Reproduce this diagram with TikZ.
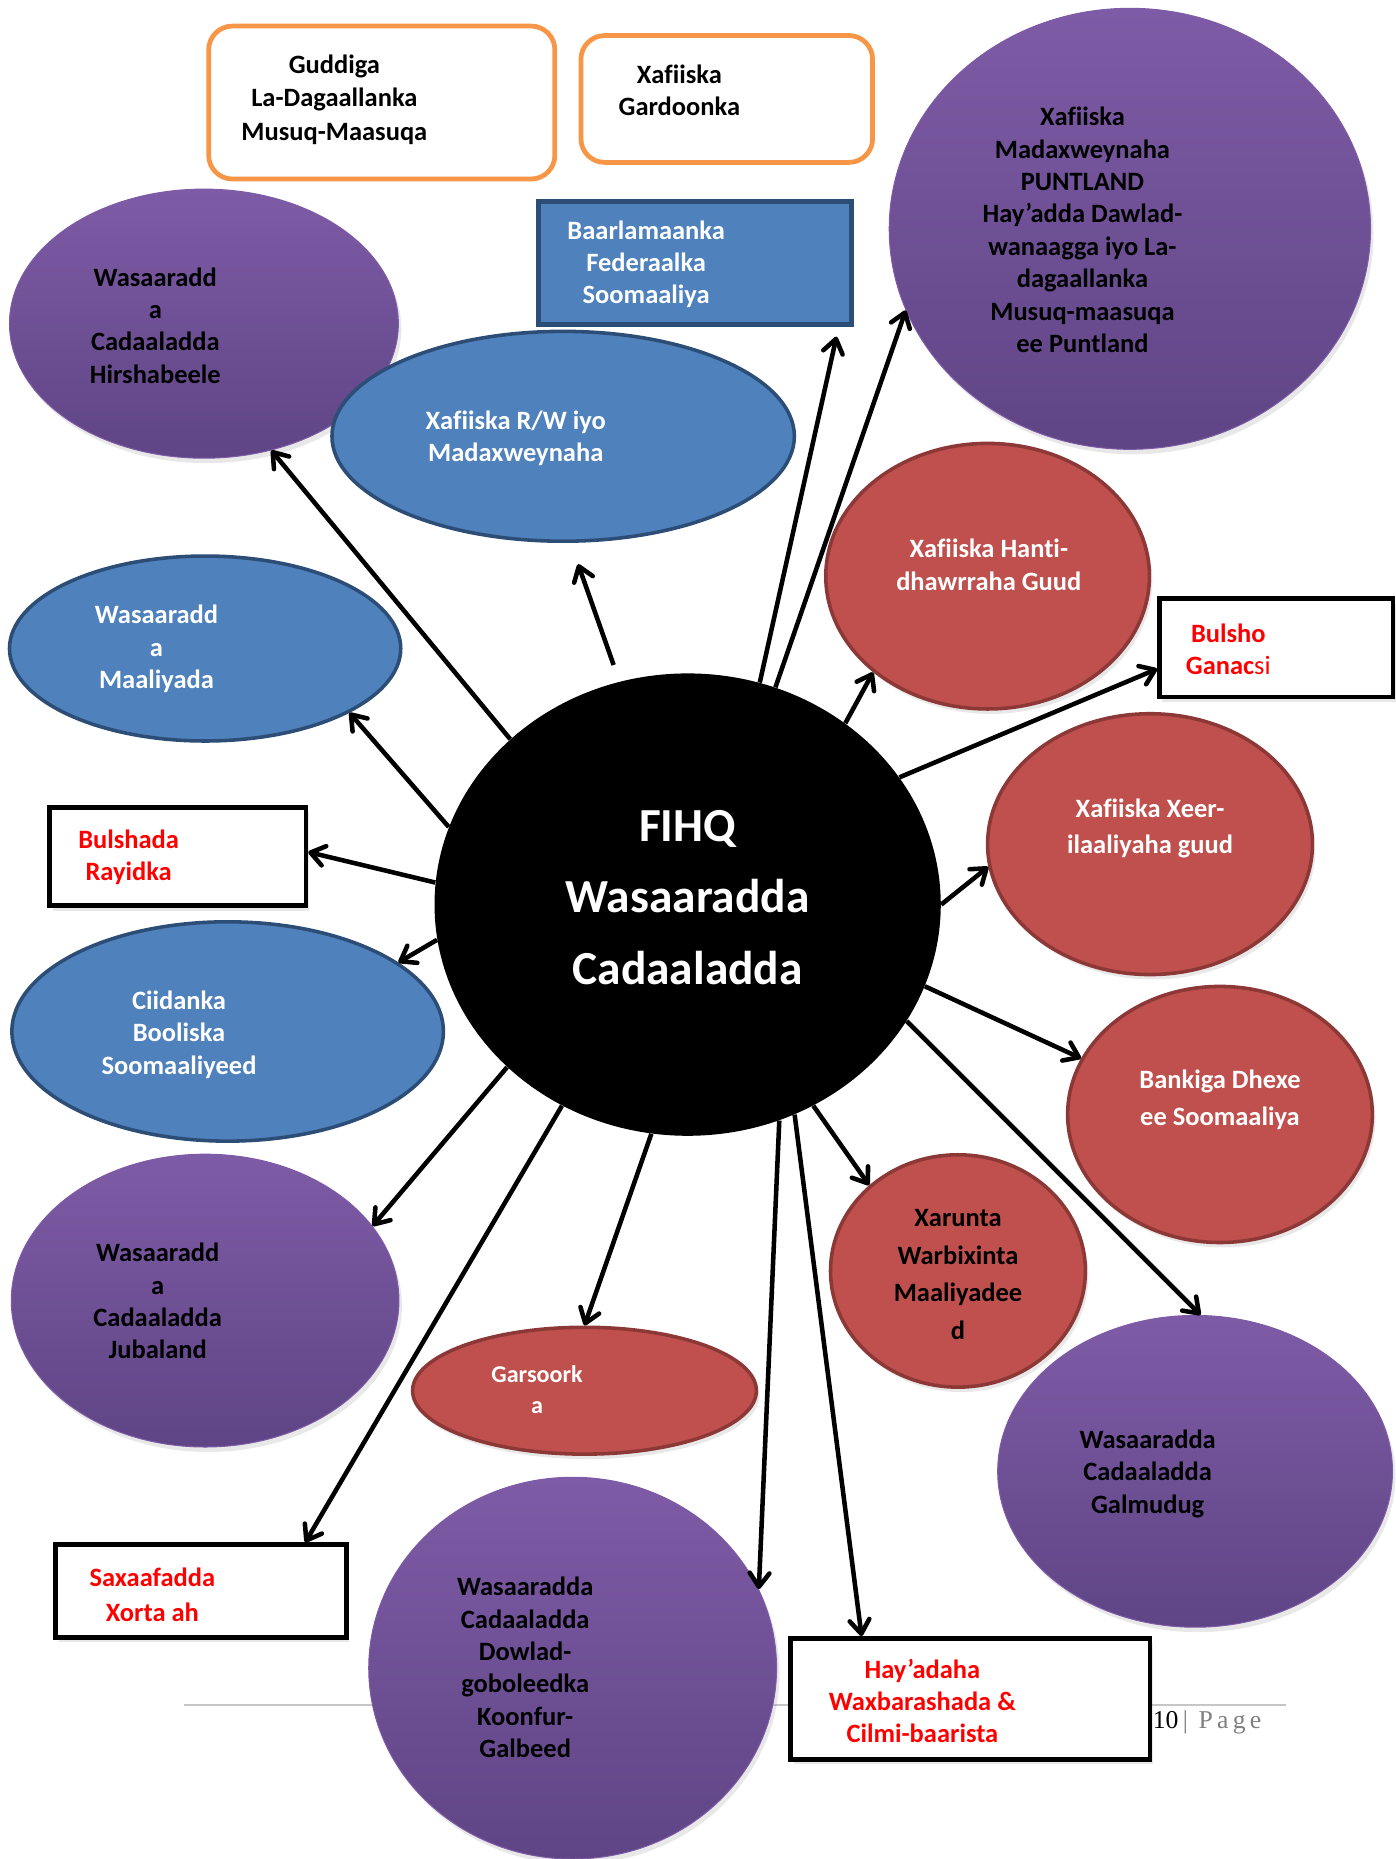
\documentclass[tikz,border=0pt]{standalone}
\usepackage{fontspec}
\setmainfont{Carlito}[Ligatures=NoCommon]
\newfontfamily\tnr{Liberation Serif}
\usetikzlibrary{arrows.meta,shapes.geometric,shadows}
\definecolor{myblue}{HTML}{4F81BD}
\definecolor{mybluedark}{HTML}{2C4D75}
\definecolor{myred}{HTML}{C0504D}
\definecolor{myreddark}{HTML}{8C3836}
\definecolor{purptop}{HTML}{7E5BA6}
\definecolor{purpbot}{HTML}{5F4585}
\definecolor{myorange}{HTML}{F79646}
\definecolor{txtred}{HTML}{FF0000}
\definecolor{footgray}{HTML}{7F7F7F}
\begin{document}
\begin{tikzpicture}[x=0.6pt,y=-0.6pt,
  sz/.style 2 args={minimum width=#1*0.6pt, minimum height=#2*0.6pt},
  shd/.style={drop shadow={opacity=0.18,shadow xshift=1.5pt,shadow yshift=-2.5pt}},
  purp/.style={ellipse, inner sep=0, top color=purptop, bottom color=purpbot, draw=purptop, line width=0.5pt, shd},
  blueell/.style={ellipse, inner sep=0, fill=myblue, draw=mybluedark, line width=1.8pt},
  redell/.style={ellipse, inner sep=0, fill=myred, draw=myreddark, line width=1.8pt, shd},
  blkbox/.style={rectangle, inner sep=0, draw=black, line width=2.4pt, fill=white, shd},
  orbox/.style={rectangle, rounded corners=12pt, inner sep=0, draw=myorange, line width=2.4pt, fill=white},
  bluebox/.style={rectangle, inner sep=0, fill=myblue, draw=mybluedark, line width=2.4pt},
  txt/.style={font=\bfseries\fontsize{13.4}{16.4}\selectfont, align=center, inner sep=0},
  wtxt/.style={txt, text=white},
  rtxt/.style={txt, text=txtred, font=\bfseries\fontsize{13.4}{16.2}\selectfont},
  arr/.style={line width=2.3pt, -{Straight Barb[length=7pt,width=10pt,round]}}
]
\useasboundingbox (0,0) rectangle (1177,1568);
% footer rule
\coordinate (fl) at (155,1438);
\coordinate (fr) at (1085,1438);
\draw[gray!45, line width=0.7pt] (fl) -- (fr);
% shapes
\node[purp, sz={406}{372}] (punt) at (953,193) {};
\node[orbox, sz={292}{129}] (gud) at (322,86.5) {};
\node[orbox, sz={246}{107}] (gar) at (613,83.5) {};
\node[bluebox, sz={264}{104}] (baar) at (586,222) {};
\node[purp, sz={328}{227}] (hirs) at (172,273) {};
\node[blueell, sz={390}{177}] (rw) at (475,368) {};
\node[redell, sz={273}{224}] (hanti) at (833,486) {};
\node[blkbox, sz={197}{83}] (bulsho) at (1076.5,546.5) {};
\node[blueell, sz={330}{156}] (maal) at (173,547) {};
\node[redell, sz={274}{220}] (xeer) at (970,712) {};
\node[blkbox, sz={216}{83}] (rayid) at (150,722.5) {};
\node[blueell, sz={364}{185}] (ciid) at (192,870) {};
\node[redell, sz={257}{216}] (bank) at (1029,940) {};
\node[purp, sz={327}{247}] (jub) at (173,1097) {};
\node[redell, sz={215}{196}] (xar) at (808,1072) {};
\node[redell, sz={290}{107}] (garso) at (493,1173) {};
\node[purp, sz={333}{263}] (galm) at (1008,1241) {};
\node[blkbox, sz={245}{78}] (sax) at (169.5,1342) {};
\node[purp, sz={344}{322}] (koon) at (483,1407) {};
\node[blkbox, sz={303}{102}] (hay) at (818.5,1433) {};
\node[ellipse, inner sep=0, fill=black, sz={427}{390}] (c) at (580,763) {};
% connectors
\draw[arr] (c.137.8) -- (hirs.-62.1);
\draw[arr, shorten <=8.9pt, shorten >=11.4pt] (c.107.4) -- (rw.-86);
\draw[arr, shorten >=4.9pt] (c.72) -- (baar.-24.8);
\draw[arr] (c.68.5) -- (punt.-160.2);
\draw[arr] (c.49.2) -- (hanti.220.1);
\draw[arr] (c.31) -- (bulsho.190.6);
\draw[arr] (c.0) -- (xeer.188.9);
\draw[arr] (c.-19.3) -- (bank.158.9);
\draw[arr] (c.-28.2) -- (galm.88.3);
\draw[arr] (c.-58.1) -- (xar.136.5);
\draw[arr] (c.-63) -- (hay.150.3);
\draw[arr] (c.-67.1) -- (koon.23.7);
\draw[arr] (c.-99.4) -- (garso.90);
\draw[arr] (c.-122.6) -- (sax.25.9);
\draw[arr] (c.-138.4) -- (jub.24.3);
\draw[arr] (c.-172.5) -- (ciid.22.8);
\draw[arr] (c.175.1) -- (rayid.2.4);
\draw[arr] (c.162.7) -- (maal.-24.8);
% texts
\node[txt, font=\bfseries\fontsize{13.4}{17.1}\selectfont] (gudT) at (282,84) {Guddiga\\La-Dagaallanka\\Musuq-Maasuqa};
\node[txt, font=\bfseries\fontsize{13.4}{16.2}\selectfont] (garT) at (573,76.5) {Xafiiska\\Gardoonka};
\node[wtxt] (baarT) at (545,223) {Baarlamaanka\\Federaalka\\Soomaaliya};
\node[txt] (puntT) at (913,194) {Xafiiska\\Madaxweynaha\\PUNTLAND\\Hay’adda Dawlad-\\wanaagga iyo La-\\dagaallanka\\Musuq-maasuqa\\ee Puntland};
\node[txt] (hirsT) at (131,274.5) {Wasaaradd\\a\\Cadaaladda\\Hirshabeele};
\node[wtxt] (rwT) at (435,369.5) {Xafiiska R/W iyo\\Madaxweynaha};
\node[wtxt] (hantiT) at (834,476.5) {Xafiiska Hanti-\\dhawrraha Guud};
\node[rtxt] (bulshoT) at (1036,547.5) {Bulsho\\Ganac{\mdseries si}};
\node[wtxt] (maalT) at (132,547.5) {Wasaaradd\\a\\Maaliyada};
\node[wtxt, font=\bfseries\fontsize{24}{36.3}\selectfont] (cT) at (580,757) {FIHQ\\Wasaaradda\\Cadaaladda};
\node[wtxt, font=\bfseries\fontsize{13.4}{18}\selectfont] (xeerT) at (970,699) {Xafiiska Xeer-\\ilaaliyaha guud};
\node[rtxt] (rayidT) at (108.5,723.5) {Bulshada\\Rayidka};
\node[wtxt] (ciidT) at (151,872.5) {Ciidanka\\Booliska\\Soomaaliyeed};
\node[wtxt, font=\bfseries\fontsize{13.4}{18.6}\selectfont] (bankT) at (1029,927.5) {Bankiga Dhexe\\ee Soomaaliya};
\node[txt] (jubT) at (133,1097.5) {Wasaaradd\\a\\Cadaaladda\\Jubaland};
\node[txt, font=\bfseries\fontsize{13.4}{19.2}\selectfont] (xarT) at (808,1075) {Xarunta\\Warbixinta\\Maaliyadee\\d};
\node[wtxt, font=\bfseries\fontsize{12.2}{15.6}\selectfont] (garsoT) at (453,1172) {Garsoork\\a};
\node[txt] (galmT) at (968,1243) {Wasaaradda\\Cadaaladda\\Galmudug};
\node[rtxt, font=\bfseries\fontsize{13.4}{18}\selectfont] (saxT) at (128.5,1345) {Saxaafadda\\Xorta ah};
\node[txt] (koonT) at (443,1406.5) {Wasaaradda\\Cadaaladda\\Dowlad-\\goboleedka\\Koonfur-\\Galbeed};
\node[rtxt] (hayT) at (778,1434.5) {Hay’adaha\\Waxbarashada \&\\Cilmi-baarista};
\node[inner sep=0, anchor=west, font=\tnr\fontsize{13}{15}\selectfont] (pg) at (972,1453) {10\,{\color{footgray}|\, P\,a\,g\,e}};
\end{tikzpicture}
\end{document}
